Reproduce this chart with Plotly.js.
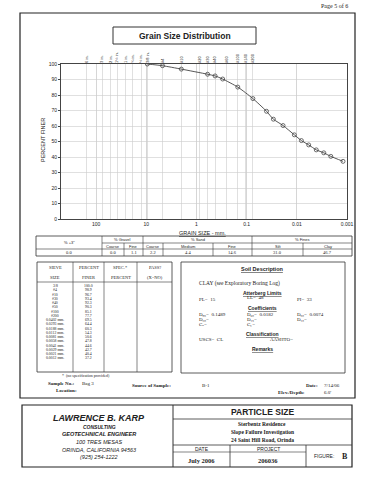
<!DOCTYPE html>
<html><head><meta charset="utf-8">
<script src="https://cdn.plot.ly/plotly-3.0.1.min.js"></script>
<style>html,body{margin:0;padding:0;background:#fff;}#g{width:371px;height:480px;}</style>
</head><body><div id="g"></div>
<script>
// ---- data ----
const sieveLabels = ['3/8','#4','#10','#30','#40','#50','#100','#200','0.0402 mm.','0.0293 mm.','0.0188 mm.','0.0112 mm.','0.0081 mm.','0.0058 mm.','0.0041 mm.','0.0029 mm.','0.0021 mm.','0.0012 mm.'];
const grainSizeMm = [9.525,4.75,2.0,0.6,0.425,0.3,0.15,0.075,0.0402,0.0293,0.0188,0.0112,0.0081,0.0058,0.0041,0.0029,0.0021,0.0012];
const percentFiner = [100.0,98.9,96.7,93.4,92.3,90.3,85.1,77.7,69.5,64.4,60.3,54.3,50.6,47.8,44.6,42.7,40.4,37.2];
const topSieveSizes = [152.4,76.2,50.8,38.1,25.4,19.05,12.7,9.525,4.75,2.0,0.85,0.6,0.425,0.25,0.15,0.106,0.075];
const topSieveLabels = ['6 in.','3 in.','2 in.','1½ in.','1 in.','¾ in.','½ in.','3/8 in.','#4','#10','#20','#30','#40','#60','#100','#140','#200'];
const bottomTicks = [100,10,1,0.1,0.01,0.001];
const bottomTickText = ['100','10','1','0.1','0.01','0.001'];
const compGroups = ['% +3"','% Gravel','% Sand','% Fines'];
const compSub = ['','Coarse','Fine','Coarse','Medium','Fine','Silt','Clay'];
const compValues = [0.0,0.0,1.1,2.2,4.4,14.6,31.0,46.7];

// ---- geometry helpers (pixel -> paper) ----
const X0=61,X1=347,YT=64,YB=219;
const px=x=>(x-X0)/(X1-X0), py=y=>(YB-y)/(YB-YT);
const shapes=[], ann=[];
function L(x0,y0,x1,y1,w,c){shapes.push({type:'line',xref:'paper',yref:'paper',x0:px(x0),y0:py(y0),x1:px(x1),y1:py(y1),line:{color:c||'#333',width:w||0.8}});}
function R(x0,y0,x1,y1,w,c){shapes.push({type:'rect',xref:'paper',yref:'paper',x0:px(x0),y0:py(y0),x1:px(x1),y1:py(y1),line:{color:c||'#333',width:w||0.8}});}
function T(x,y,t,o){o=o||{};ann.push({xref:'paper',yref:'paper',x:px(x),y:py(y),text:t,showarrow:false,xanchor:o.xa||'center',yanchor:'middle',textangle:o.ang||0,
  font:{family:o.f||'Liberation Sans, Arial, sans-serif',size:o.s||5,color:o.c||'#222',weight:o.b?'bold':'normal',style:o.i?'italic':'normal',lineposition:o.u?'under':'none'}});}
const SERIF='Liberation Serif, Times New Roman, serif';

// page texts / frame
T(350,6,'Page 5 of 6',{xa:'right',s:6,f:SERIF});
R(20,13,355,398,1.2,'#222');
R(113,27,256,44,1,'#333');
T(184.5,35.5,'Grain Size Distribution',{s:8.5,b:1});
T(43,140,'PERCENT FINER',{ang:-90,s:5.5});
T(202,233,'GRAIN SIZE - mm.',{s:5.5,u:1});

// composition table
const cx=[36,102,124,143,163,213,252,303,352];
R(36,236,352,256,0.8);
L(102,243,352,243,0.6); L(36,249,352,249,0.6);
[102,143,252].forEach(x=>L(x,236,x,256,0.6));
[124,163,213,303].forEach(x=>L(x,243,x,256,0.6));
T(69,242,compGroups[0],{s:4});
T(122.5,239.5,compGroups[1],{s:4});T(197.5,239.5,compGroups[2],{s:4});T(302,239.5,compGroups[3],{s:4});
for(let i=1;i<8;i++){T((cx[i]+cx[i+1])/2,246,compSub[i],{s:4});}
for(let i=0;i<8;i++){const a=i===0?36:cx[i],b=i===0?102:cx[i+1];T((a+b)/2,252.5,compValues[i].toFixed(1),{s:4.5,f:SERIF});}

// sieve table
R(37,262,172,372,0.8);
[73,104,137].forEach(x=>L(x,262,x,372,0.6));
L(37,282,172,282,0.6);
T(55,267,'SIEVE',{s:4.5,f:SERIF});T(55,277,'SIZE',{s:4.5,f:SERIF});
T(88.5,267,'PERCENT',{s:4.5,f:SERIF});T(88.5,277,'FINER',{s:4.5,f:SERIF});
T(120.5,267,'SPEC.*',{s:4.5,f:SERIF});T(120.5,277,'PERCENT',{s:4.5,f:SERIF});
T(154.5,267,'PASS?',{s:4.5,f:SERIF});T(154.5,277,'(X=NO)',{s:4.5,f:SERIF});
sieveLabels.forEach((s,i)=>{const y=286+i*4.25;T(55,y,s,{s:3.8,f:SERIF});T(88.5,y,percentFiner[i].toFixed(1),{s:3.8,f:SERIF});});
T(60,376,'*  (no specification provided)',{xa:'left',s:4,f:SERIF});
T(46,383,'Sample No.:',{xa:'left',s:5,f:SERIF,b:1});T(80,383,'Bag 3',{xa:'left',s:5,f:SERIF});
T(54,390,'Location:',{xa:'left',s:5,f:SERIF,b:1});
T(130,385,'Source of Sample:',{xa:'left',s:5,f:SERIF,b:1});
T(200,385,'B-1',{xa:'left',s:5,f:SERIF});
T(304,385,'Date:',{xa:'left',s:5,f:SERIF,b:1});T(322,385,'7/14/06',{xa:'left',s:5,f:SERIF});
T(276,392,'Elev./Depth:',{xa:'left',s:5,f:SERIF,b:1});T(322,392,'6.0\'',{xa:'left',s:5,f:SERIF});

// soil description box
R(181,262,345,373,0.8);
T(262,269,'Soil Description',{s:5.5,b:1,u:1});
T(197,283,'CLAY (see Exploratory Boring Log)',{xa:'left',s:5.5,f:SERIF});
T(262,293,'Atterberg Limits',{s:5,b:1,u:1});
T(197,299,'PL=  15',{xa:'left',s:5,f:SERIF});T(245,297,'LL=  48',{xa:'left',s:5,f:SERIF});T(295,299,'PI=  33',{xa:'left',s:5,f:SERIF});
T(262,308,'Coefficients',{s:5,b:1,u:1});
T(197,314,'D₈₅=  0.1489',{xa:'left',s:5,f:SERIF});T(245,314,'D₆₀=  0.0182',{xa:'left',s:5,f:SERIF});T(295,314,'D₅₀=  0.0074',{xa:'left',s:5,f:SERIF});
T(197,319,'D₃₀=',{xa:'left',s:5,f:SERIF});T(245,319,'D₁₅=',{xa:'left',s:5,f:SERIF});T(295,319,'D₁₀=',{xa:'left',s:5,f:SERIF});
T(197,324,'Cᵤ=',{xa:'left',s:5,f:SERIF});T(245,324,'C꜀=',{xa:'left',s:5,f:SERIF});
T(262,334,'Classification',{s:5,b:1,u:1});
T(197,339,'USCS=  CL',{xa:'left',s:5,f:SERIF});T(268,339,'AASHTO=',{xa:'left',s:5,f:SERIF});
T(262,349,'Remarks',{s:5,b:1,u:1});

// title block
R(22,405,352,467,1.2,'#222');
L(173,405,173,467,1);
L(173,419,352,419,0.8);
L(173,445,352,445,0.8);
L(173,452,306,452,0.6);
L(230,445,230,467,0.8);L(306,445,306,467,0.8);
T(99,418,'LAWRENCE B. KARP',{s:9,b:1,i:1});
T(99,427,'CONSULTING',{s:5,b:1,i:1});
T(99,434,'GEOTECHNICAL ENGINEER',{s:5.5,b:1,i:1});
T(99,442,'100 TRES MESAS',{s:5.5,i:1});
T(99,450,'ORINDA, CALIFORNIA 94563',{s:5.5,i:1});
T(99,457,'(925) 254-1222',{s:5.5,i:1});
T(262,412,'PARTICLE SIZE',{s:8.5,b:1});
T(262,424,'Sterbentz Residence',{s:5.5,f:SERIF,b:1});
T(262,432,'Slope Failure Investigation',{s:5.5,f:SERIF,b:1});
T(262,440,'24 Saint Hill Road, Orinda',{s:5.5,f:SERIF,b:1});
T(201.5,448.5,'DATE',{s:5});T(268,448.5,'PROJECT',{s:5});
T(201.5,460,'July 2006',{s:6.5,f:SERIF,b:1});T(268,460,'206036',{s:6.5,f:SERIF,b:1});
T(312,456,'FIGURE:',{xa:'left',s:5});T(340,456,'B',{xa:'left',s:8,f:SERIF,b:1});

const trace={x:grainSizeMm,y:percentFiner,type:'scatter',mode:'lines+markers',
  line:{color:'#444',width:0.9,shape:'spline',smoothing:0.6},
  marker:{symbol:'circle-open',size:4,color:'#333',line:{width:0.7}},hoverinfo:'skip',showlegend:false};
const dummyTop={x:topSieveSizes,y:topSieveSizes.map(()=>null),xaxis:'x2',type:'scatter',mode:'markers',showlegend:false,hoverinfo:'skip'};
const lrange=[Math.log10(500),-3];
const layout={width:371,height:480,margin:{l:X0,r:371-X1,t:YT,b:480-YB},paper_bgcolor:'#fff',plot_bgcolor:'#fff',
  showlegend:false,
  xaxis:{type:'log',range:lrange,tickvals:bottomTicks,ticktext:bottomTickText,showgrid:true,gridcolor:'#bbb',gridwidth:0.6,
    showline:true,linecolor:'#444',linewidth:1,mirror:true,ticks:'',tickfont:{size:5,family:'Liberation Sans, Arial',color:'#222'},zeroline:false},
  xaxis2:{type:'log',range:lrange,overlaying:'x',side:'top',tickvals:topSieveSizes,ticktext:topSieveLabels,tickangle:-90,
    showgrid:true,gridcolor:'#ccc',gridwidth:0.6,ticks:'',tickfont:{size:4,family:'Liberation Sans, Arial',color:'#222'},showline:false,zeroline:false},
  yaxis:{range:[0,100],dtick:10,showgrid:true,gridcolor:'#ccc',gridwidth:0.6,showline:true,linecolor:'#444',linewidth:1,mirror:true,
    ticks:'outside',ticklen:2,tickcolor:'#444',tickfont:{size:5,family:'Liberation Sans, Arial',color:'#222'},zeroline:false},
  shapes:shapes,annotations:ann};
Plotly.newPlot('g',[dummyTop,trace],layout,{displayModeBar:false,staticPlot:true});
</script></body></html>
